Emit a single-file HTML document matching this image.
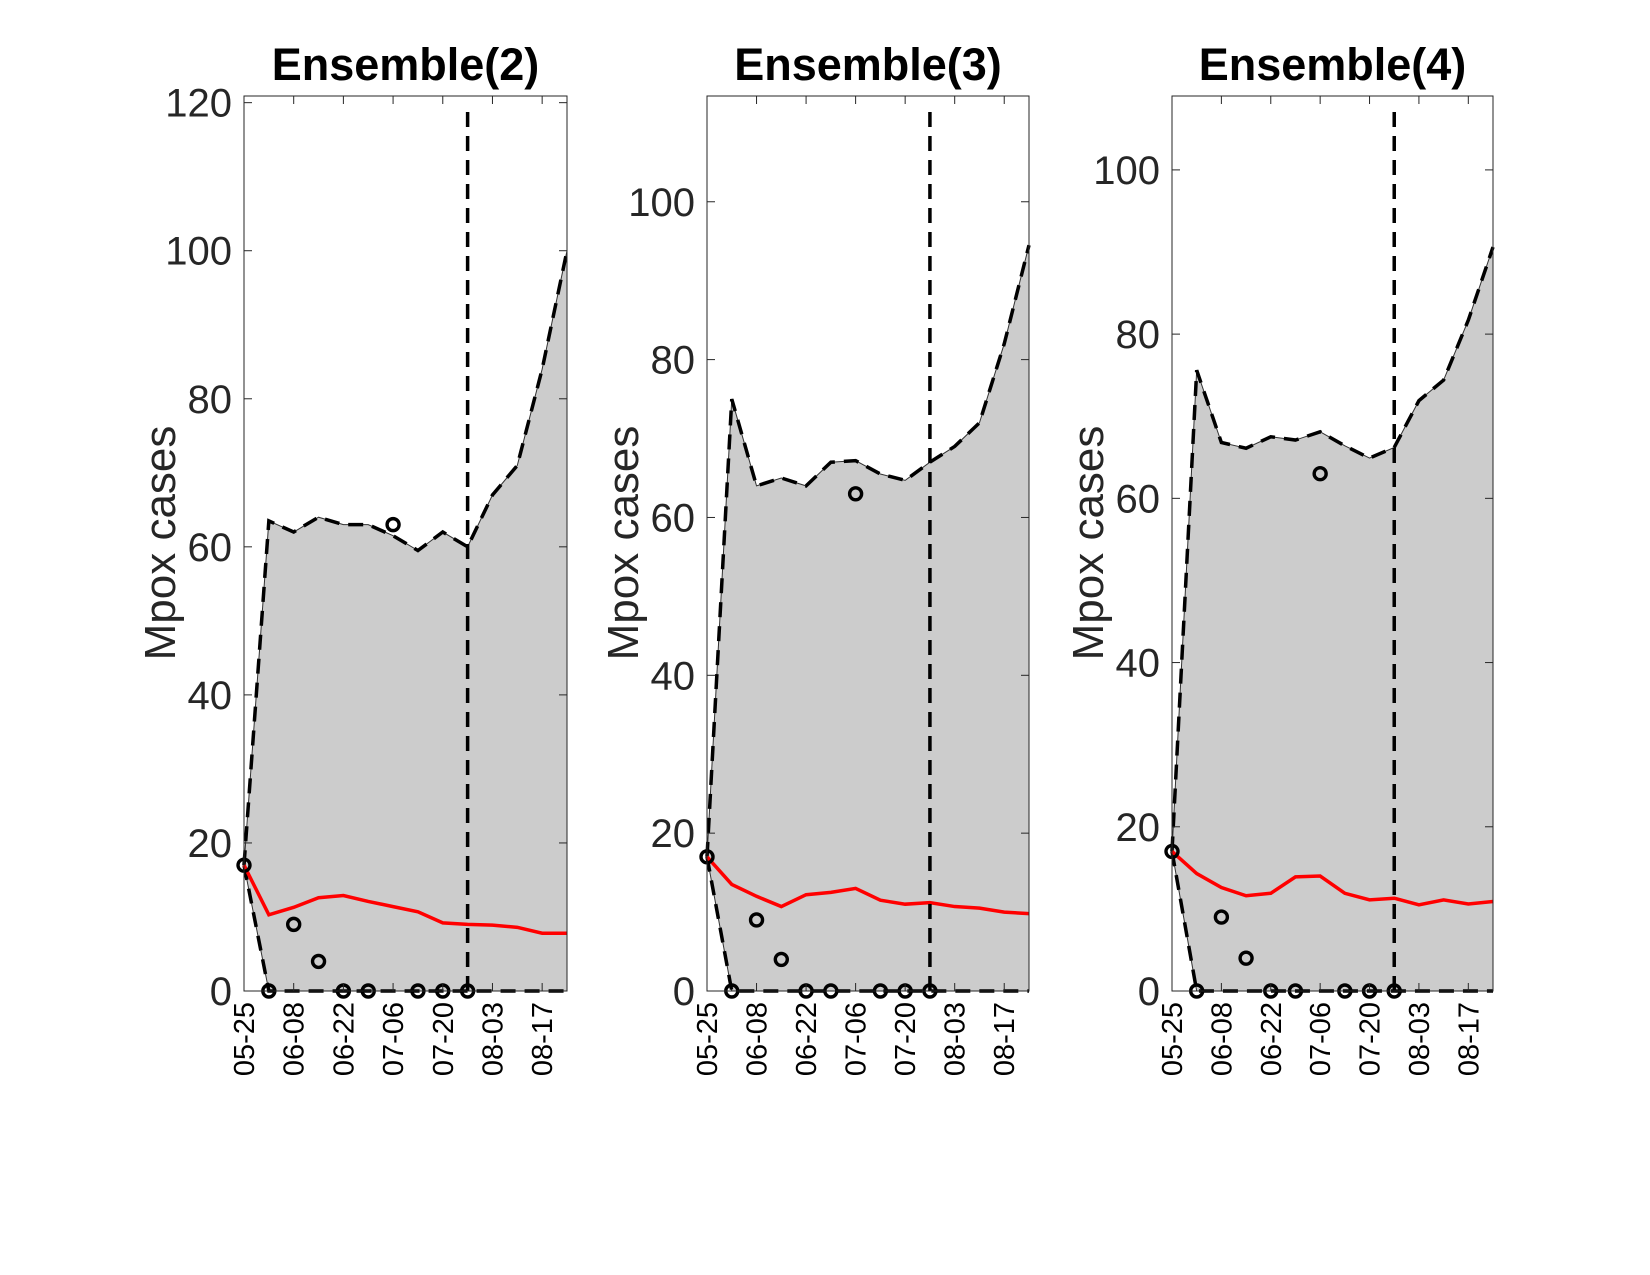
<!DOCTYPE html>
<html><head><meta charset="utf-8"><style>
html,body{margin:0;padding:0;background:#fff;}
svg{display:block;font-family:"Liberation Sans",Arial,sans-serif;}
</style></head><body>
<svg id="chart" width="1650" height="1275" viewBox="0 0 1650 1275" xmlns="http://www.w3.org/2000/svg"></svg>
<script>
const xTickLabels = ["05-25","06-08","06-22","07-06","07-20","08-03","08-17"];
const obsWeeks = [0,1,2,3,4,5,6,7,8,9];
const obsValues = [17,0,9,4,0,0,63,0,0,0];
const forecastStartWeek = 9;
const lower2 = [17,0,0,0,0,0,0,0,0,0,0,0,0,0];
const upper2 = [17,63.5,62,64,63,63,61.5,59.5,62,60,67,71,84,100];
const median2 = [17,10.3,11.3,12.6,12.9,12.1,11.4,10.7,9.2,9,8.9,8.6,7.8,7.8];
const lower3 = [17,0,0,0,0,0,0,0,0,0,0,0,0,0];
const upper3 = [17,75,64,65,64,67,67.2,65.5,64.7,67,69,72,82,94.5];
const median3 = [17,13.5,12,10.7,12.2,12.5,13,11.5,11,11.2,10.7,10.5,10,9.8];
const lower4 = [17,0,0,0,0,0,0,0,0,0,0,0,0,0];
const upper4 = [17,75.6,66.8,66.1,67.5,67.1,68.1,66.4,64.9,66.2,71.9,74.4,81.7,90.6];
const median4 = [17,14.3,12.6,11.6,11.9,13.9,14,11.9,11.1,11.3,10.5,11.1,10.6,10.9];
const yTicks2 = [0,20,40,60,80,100,120];
const yTicks3 = [0,20,40,60,80,100];
const yTicks4 = [0,20,40,60,80,100];

const panels = [
 {title:"Ensemble(2)", left:244, right:567, ymax:120.9, lower:lower2, upper:upper2, median:median2, yTicks:yTicks2},
 {title:"Ensemble(3)", left:707, right:1029, ymax:113.4, lower:lower3, upper:upper3, median:median3, yTicks:yTicks3},
 {title:"Ensemble(4)", left:1172, right:1493, ymax:109, lower:lower4, upper:upper4, median:median4, yTicks:yTicks4}
];
const NS="http://www.w3.org/2000/svg";
const svg=document.getElementById('chart');
const TOP=96, BOT=991, XMAX=13;
function mk(tag, attrs, parent){const e=document.createElementNS(NS,tag);for(const k in attrs)e.setAttribute(k,attrs[k]);(parent||svg).appendChild(e);return e;}

panels.forEach((p,pi)=>{
  const g=mk('g',{});
  
  
  const xs=w=>p.left+(p.right-p.left)*w/XMAX;
  const ys=v=>BOT-(BOT-TOP)*v/p.ymax;
  const n=p.upper.length;
  let up=[],lo=[];
  for(let i=0;i<n;i++){up.push(xs(i)+','+ys(p.upper[i]));lo.push(xs(i)+','+ys(p.lower[i]));}
  const band=mk('polygon',{points:up.concat(lo.slice().reverse()).join(' '),fill:'#cccccc',stroke:'#333','stroke-width':1},g);
  
  
  const ub=mk('polyline',{points:up.join(' '),fill:'none',stroke:'#000','stroke-width':3.5,'stroke-dasharray':'15 9'},g);
  
  
  const lb=mk('polyline',{points:lo.join(' '),fill:'none',stroke:'#000','stroke-width':3.5,'stroke-dasharray':'15 9'},g);
  
  
  let md=[];for(let i=0;i<n;i++)md.push(xs(i)+','+ys(p.median[i]));
  const ml=mk('polyline',{points:md.join(' '),fill:'none',stroke:'#ff0000','stroke-width':3.5},g);
  
  
  const vl=mk('line',{x1:xs(forecastStartWeek),x2:xs(forecastStartWeek),y1:112,y2:BOT,stroke:'#000','stroke-width':3.5,'stroke-dasharray':'15 9'},g);
  
  
  obsWeeks.forEach((w,i)=>{
    const c=mk('circle',{cx:xs(w),cy:ys(obsValues[i]),r:6,fill:'none',stroke:'#000','stroke-width':3.4},g);
    
    
  });
  const box=mk('rect',{x:p.left,y:TOP,width:p.right-p.left,height:BOT-TOP,fill:'none',stroke:'#262626','stroke-width':1},g);
  
  
  p.yTicks.forEach(t=>{
    const y=ys(t);
    mk('line',{x1:p.left,x2:p.left+8,y1:y,y2:y,stroke:'#262626','stroke-width':1},g);
    mk('line',{x1:p.right,x2:p.right-8,y1:y,y2:y,stroke:'#262626','stroke-width':1},g);
    const tx=mk('text',{x:p.left-12,y:y+14,'text-anchor':'end','font-size':40,fill:'#262626'},g);
    tx.textContent=t;
    
    
  });
  xTickLabels.forEach((lab,i)=>{
    const x=xs(i*2);
    mk('line',{x1:x,x2:x,y1:TOP,y2:TOP+8,stroke:'#262626','stroke-width':1},g);
    mk('line',{x1:x,x2:x,y1:BOT,y2:BOT-8,stroke:'#262626','stroke-width':1},g);
    const tx=mk('text',{x:0,y:0,'text-anchor':'end','font-size':29,fill:'#000',transform:`translate(${x+10},1002) rotate(-90)`},g);
    tx.textContent=lab;
    
    
  });
  const yl=mk('text',{x:0,y:0,'text-anchor':'middle','font-size':44,fill:'#262626',transform:`translate(${p.left-69},543) rotate(-90)`},g);
  yl.textContent='Mpox cases';
  
  
  const tt=mk('text',{x:(p.left+p.right)/2,y:80,'text-anchor':'middle','font-size':45,'font-weight':'bold',fill:'#000'},g);
  tt.textContent=p.title;
  
  
});
</script>
</body></html>
